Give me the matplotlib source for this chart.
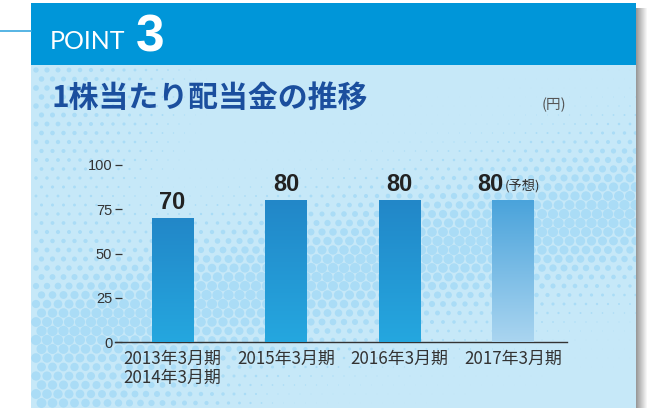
import numpy as np
import matplotlib
matplotlib.use("Agg")
from matplotlib import pyplot as plt
from matplotlib.colors import LinearSegmentedColormap
from matplotlib.patches import Rectangle

plt.rcParams['font.family'] = ['Noto Sans CJK JP', 'DejaVu Sans']

# data
periods = ["2013年3月期\n2014年3月期", "2015年3月期", "2016年3月期", "2017年3月期"]
dividends = [70, 80, 80, 80]
forecast = [False, False, False, True]
yticks = [0, 25, 50, 75, 100]

W, H = 669, 408
fig = plt.figure(figsize=(W / 100, H / 100), dpi=100)
fig.patch.set_facecolor("white")

# background layer in pixel coords (y down)
bg = fig.add_axes([0, 0, 1, 1])
bg.set_xlim(0, W)
bg.set_ylim(H, 0)
bg.axis("off")

# drop shadow on the right
shade = np.linspace(0.6, 1.0, 12).reshape(1, -1)
bg.imshow(shade, extent=[636, 648, H, 8], cmap="gray", vmin=0, vmax=1,
          aspect="auto", interpolation="bilinear", zorder=1)
bg.set_xlim(0, W)
bg.set_ylim(H, 0)

panel = Rectangle((31, 65), 605, H - 65, facecolor="#c6e8f8", edgecolor="none", zorder=2)
bg.add_patch(panel)
bg.add_patch(Rectangle((31, 3), 605, 62, facecolor="#0096d9", edgecolor="none", zorder=3))
bg.plot([0, 31], [31, 31], color="#3aa8df", lw=1.2, zorder=3)

# halftone dots
gx, gy = np.meshgrid(np.arange(36, 636, 11.0), np.arange(70, 410, 9.0))
gx[1::2] += 5.5
band = np.exp(-((gy - (340 - 0.22 * (gx - 30))) / 65.0) ** 2)
corner = np.clip(1 - np.hypot(gx - 30, gy - 408) / 260.0, 0, 1)
top = np.clip(1 - np.hypot(gx - 30, gy - 90) / 180.0, 0, 1) * 0.5
inten = np.clip(np.maximum(np.maximum(band, corner), top), 0, 1)
dots = bg.scatter(gx.ravel(), gy.ravel(), s=(inten.ravel() ** 1.6) * 55,
                  color="#aadcf6", edgecolors="none", zorder=2.5)
dots.set_clip_path(panel)

bg.text(50, 49, "POINT", fontsize=18, color="white", family=["Lato", "DejaVu Sans"],
        fontweight="normal", va="baseline", zorder=4)
bg.text(136, 52, "3", fontsize=37, color="white", family=["Liberation Sans", "DejaVu Sans"],
        fontweight="bold", va="baseline", zorder=4)
bg.text(52, 98, "1株当たり配当金の推移", fontsize=21.5, fontweight="bold",
        color="#1b4f9e", va="center", zorder=4)
bg.text(554, 105, "(円)", fontsize=10.5, color="#555555", ha="center", va="center", zorder=4)

# chart
ax = fig.add_axes([115 / W, (H - 342) / H, 452 / W, 177 / H])
ax.patch.set_alpha(0)
x = np.arange(len(dividends))
bars = ax.bar(x, dividends, width=0.37, color="none", edgecolor="none", zorder=3)

solid = LinearSegmentedColormap.from_list("solid", ["#25a7df", "#2287c8"])
light = LinearSegmentedColormap.from_list("light", ["#aad5f0", "#4aa3db"])
grad = np.linspace(0, 1, 256).reshape(-1, 1)
for b, fc in zip(bars, forecast):
    x0, y0 = b.get_x(), b.get_y()
    im = ax.imshow(grad, extent=[x0, x0 + b.get_width(), y0, y0 + b.get_height()],
                   origin="lower", cmap=light if fc else solid, aspect="auto", zorder=3)
    im.set_clip_path(b)

ax.set_xlim(-0.507, 3.476)
ax.set_ylim(0, 100)

num_font = ["Liberation Sans Narrow", "Liberation Sans", "DejaVu Sans"]
for xi, v, fc in zip(x, dividends, forecast):
    if fc:
        ax.annotate(str(v), (xi, v), xytext=(-7, 3), textcoords="offset points",
                    ha="right", va="bottom", fontsize=17, fontweight="bold",
                    family=num_font, color="#222222", annotation_clip=False)
        ax.annotate("(予想)", (xi, v), xytext=(-6, 6), textcoords="offset points",
                    ha="left", va="bottom", fontsize=9.5, color="#333333",
                    annotation_clip=False)
    else:
        ax.annotate(str(v), (xi, v), xytext=(0, 3), textcoords="offset points",
                    ha="center", va="bottom", fontsize=17, fontweight="bold",
                    family=num_font, color="#222222", annotation_clip=False)

for s in ["left", "right", "top"]:
    ax.spines[s].set_visible(False)
ax.spines["bottom"].set_color("#333333")
ax.spines["bottom"].set_linewidth(1.0)

ax.set_yticks(yticks)
ax.set_xticks(x)
ax.set_xticklabels(periods, fontsize=12.2, color="#333333", linespacing=1.05)
ax.tick_params(axis="x", length=0, pad=6)
ax.tick_params(axis="y", direction="in", length=5, width=0.9, color="#333333",
               labelsize=10.5, labelcolor="#333333", pad=2)
for lbl in ax.get_yticklabels():
    lbl.set_family(["Liberation Sans Narrow", "Liberation Sans", "DejaVu Sans"])
for lbl in ax.get_xticklabels():
    lbl.set_verticalalignment("top")

fig.savefig("out.png", dpi=100)
